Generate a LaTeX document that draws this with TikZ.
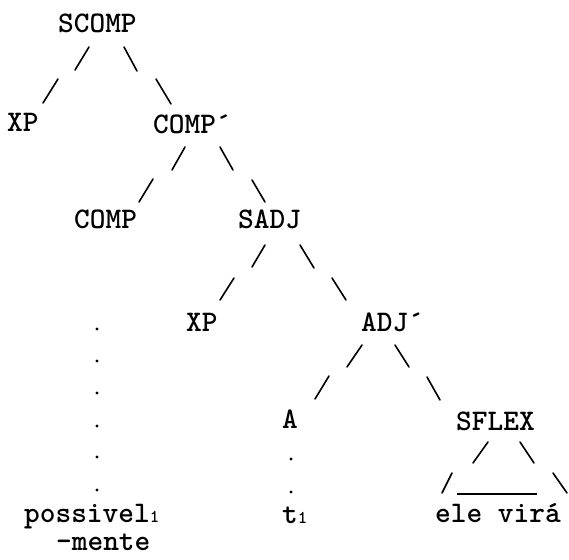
\documentclass[tikz,border=0pt]{standalone}
\begin{document}
\begin{tikzpicture}[x=1pt,y=-1pt,
  lbl/.style={inner sep=0pt,anchor=base west,font=\fontsize{29.9}{30}\selectfont\ttfamily\bfseries},
  br/.style={line width=1.6pt,line cap=round},
  dotmark/.style={circle,fill=black,inner sep=0pt,minimum size=3.4pt}]
\useasboundingbox (0,0) rectangle (569,559);
\newcommand{\subone}{{\fontsize{18}{18}\selectfont 1}}
% labels
\node[lbl] (scomp) at (58,33) {SCOMP};
\node[lbl] (xpa) at (7,131) {XP};
\node[lbl] (compb) at (153,133) {COMP´};
\node[lbl] (comp) at (74,228) {COMP};
\node[lbl] (sadj) at (238,228) {SADJ};
\node[lbl] (xpb) at (186,331) {XP};
\node[lbl] (adjb) at (361,331) {ADJ´};
\node[lbl] (a) at (282,428) {A};
\node[lbl] (sflex) at (456,430) {SFLEX};
\node[lbl] (poss) at (24,522) {possivel\subone};
\node[lbl] (mente) at (56,550) {-mente};
\node[lbl] (t) at (282,523) {t\subone};
\node[lbl] (ele) at (435,522) {ele virá};
% branches (typed slashes)
\draw[br] (89,47) -- (75,70);
\draw[br] (58,79) -- (43,103);
\draw[br] (124,47) -- (137,71);
\draw[br] (156,79) -- (171,104);
\draw[br] (185,147) -- (172,170);
\draw[br] (153,179) -- (139,202);
\draw[br] (220,147) -- (233,170);
\draw[br] (252,180) -- (265,202);
\draw[br] (265,245) -- (252,267);
\draw[br] (234,278) -- (220,300);
\draw[br] (300,245) -- (314,268);
\draw[br] (332,278) -- (346,300);
\draw[br] (362,345) -- (347,367);
\draw[br] (329,376) -- (315,399);
\draw[br] (395,345) -- (409,367);
\draw[br] (427,377) -- (440,400);
\draw[br] (488,442) -- (473,463);
\draw[br] (520,442) -- (534,463);
\draw[br] (452,473) -- (442,493);
\draw[br] (553,473) -- (567,493);
\draw[line width=1.5pt] (457,494) -- (537,494);
% dotted lines
\foreach \yy in {329,361,393,426,457,490} \node[dotmark] at (97,\yy) {};
\foreach \yy in {459,492} \node[dotmark] at (291,\yy) {};
\end{tikzpicture}
\end{document}
